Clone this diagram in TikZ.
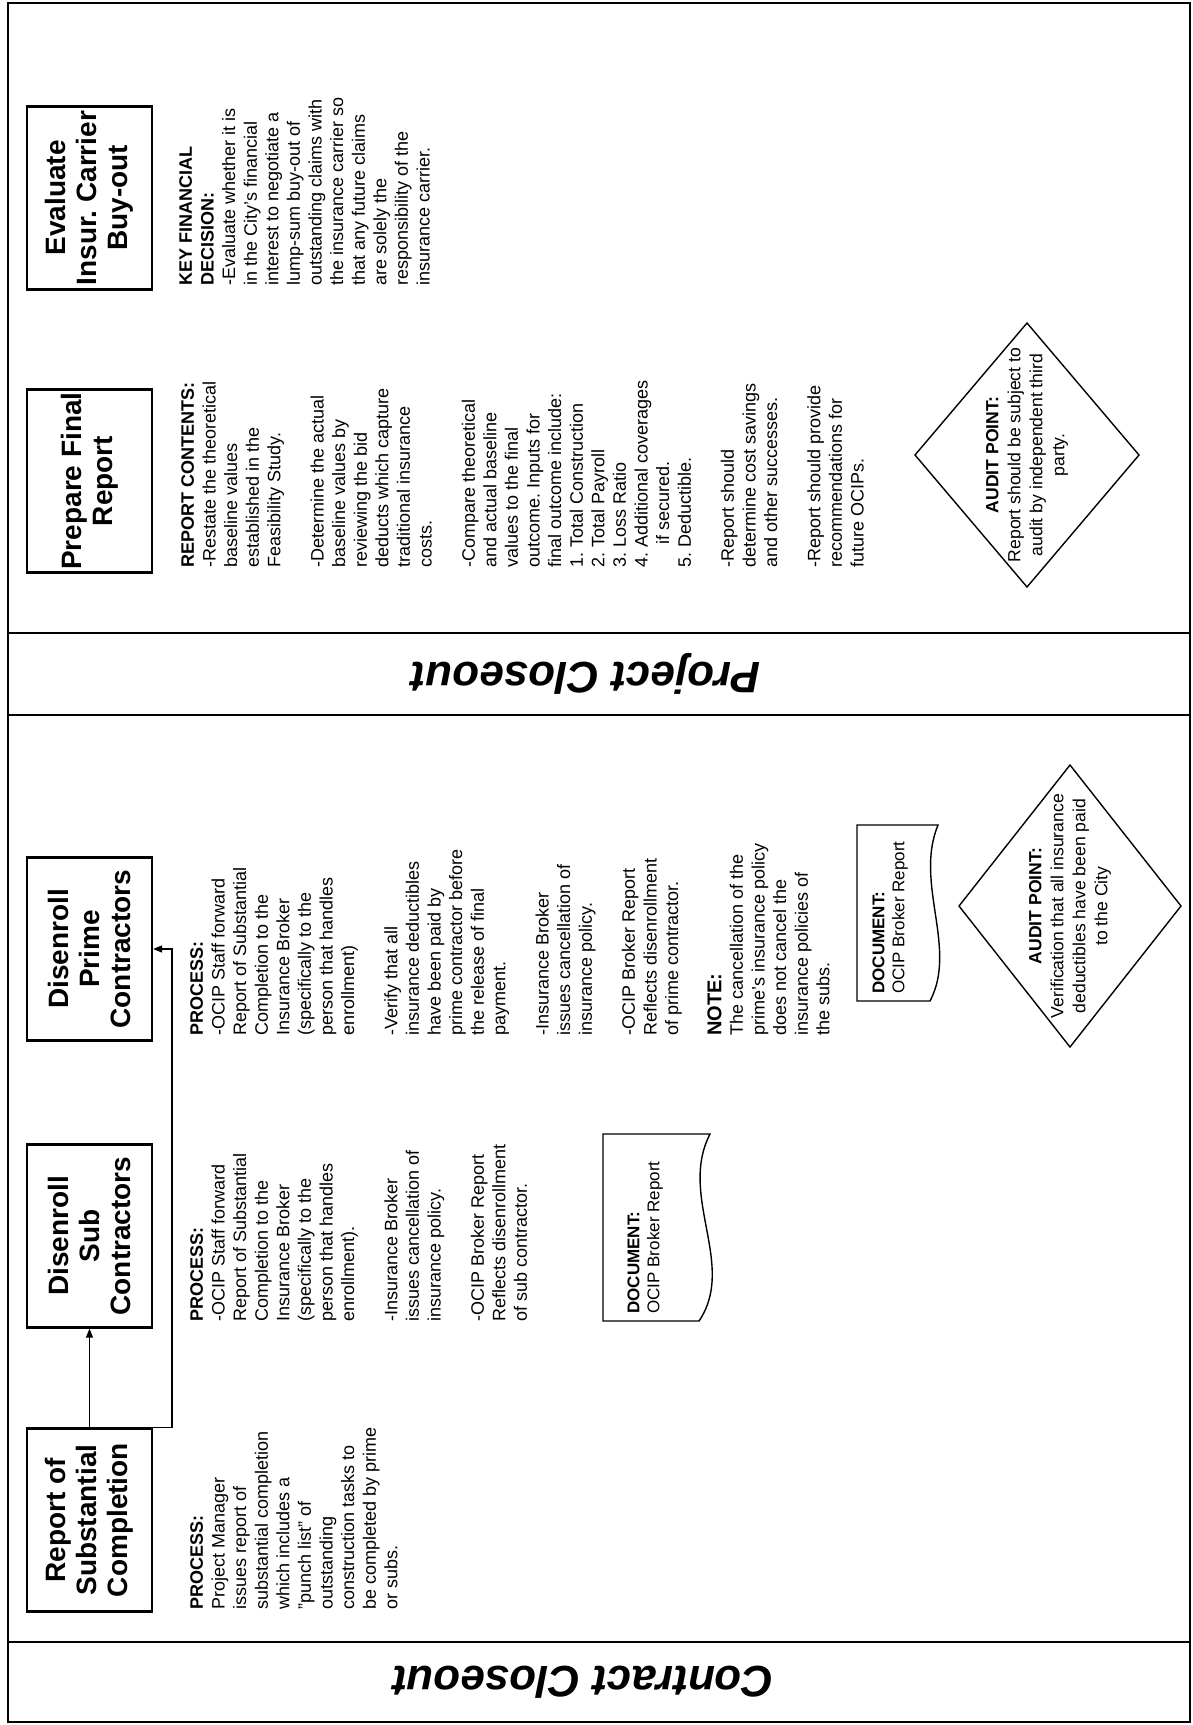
\documentclass[tikz,border=0pt]{standalone}
\usepackage{fontspec}
\setmainfont{Liberation Sans}
\usetikzlibrary{arrows.meta}
\frenchspacing
\begin{document}
\begin{tikzpicture}[x=0.5pt,y=-0.5pt,
  frame/.style={line width=1pt},
  titlebox/.style={draw, line width=1.1pt, rotate=90, align=center, minimum width=91.5pt, minimum height=62.5pt, inner sep=0pt, font=\fontsize{14}{15.6}\selectfont\bfseries},
  body/.style={rotate=90, anchor=north west, align=left, inner sep=0pt, font=\fontsize{9}{10.8}\selectfont\frenchspacing},
  docbody/.style={rotate=90, anchor=north west, align=left, inner sep=0pt, font=\fontsize{8.5}{10}\selectfont},
  audit/.style={rotate=90, align=center, inner sep=0pt, font=\fontsize{8.8}{11}\selectfont},
  lane/.style={rotate=180, inner sep=0pt, font=\fontsize{22}{26}\selectfont\bfseries\itshape},
  conn/.style={line width=0.7pt, -{Triangle[length=4.5pt,width=3.5pt]}},
  shapeline/.style={line width=0.7pt}
]
\path[use as bounding box] (0,0) rectangle (1193,1725);

% frame and lanes
\draw[frame] (8,3) rectangle (1190,1722);
\draw[frame] (8,633) -- (1190,633);
\draw[frame] (8,715) -- (1190,715);
\draw[frame] (8,1642) -- (1190,1642);
\node[lane] (lblproj) at (586,674) {Project Closeout};
\node[lane] (lblcont) at (583,1682) {Contract Closeout};

% title boxes
\node[titlebox] (eval) at (89.5,198) {Evaluate\\Insur. Carrier\\Buy-out};
\node[titlebox] (prep) at (89.5,481) {Prepare Final\\Report};
\node[titlebox] (prime) at (89.5,949) {Disenroll\\Prime\\Contractors};
\node[titlebox] (sub) at (89.5,1236) {Disenroll\\Sub\\Contractors};
\node[titlebox] (rep) at (89.5,1520) {Report of\\Substantial\\Completion};

% connectors
\coordinate (jog) at (172,1428);
\draw[conn] (rep.east) -- (sub.west);
\draw[conn] (rep.east) -- (rep.east -| jog) |- (prime.south);

% project closeout texts
\node[body] (keytxt) at (179,286) {\textbf{KEY FINANCIAL}\\\textbf{DECISION:}\\-Evaluate whether it is\\in the City's financial\\interest to negotiate a\\lump-sum buy-out of\\outstanding claims with\\the insurance carrier so\\that any future claims\\are solely the\\responsibility of the\\insurance carrier.};

\node[body] (repcont) at (181,568) {\textbf{REPORT CONTENTS:}\\-Restate the theoretical\\baseline values\\established in the\\Feasibility Study.\\[10.8pt]-Determine the actual\\baseline values by\\reviewing the bid\\deducts which capture\\traditional insurance\\costs.\\[10.8pt]-Compare theoretical\\and actual baseline\\values to the final\\outcome. Inputs for\\final outcome include:\\1. Total Construction\\2. Total Payroll\\3. Loss Ratio\\4. Additional coverages\\\hspace*{1.3em}if secured.\\5. Deductible.\\[10.8pt]-Report should\\determine cost savings\\and other successes.\\[10.8pt]-Report should provide\\recommendations for\\future OCIPs.};

\coordinate (d1) at (1027,455);
\draw[shapeline] (d1) ++(0,-132) -- ++(112,132) -- ++(-112,132) -- ++(-112,-132) -- cycle;
\node[audit] (aud1) at (d1) {\textbf{AUDIT POINT:}\\Report should be subject to\\audit by independent third\\party.};

% contract closeout texts
\node[body] (reptxt) at (190,1610) {\textbf{PROCESS:}\\Project Manager\\issues report of\\substantial completion\\which includes a\\"punch list" of\\outstanding\\construction tasks to\\be completed by prime\\or subs.};

\node[body] (subtxt) at (190,1322) {\textbf{PROCESS:}\\-OCIP Staff forward\\Report of Substantial\\Completion to the\\Insurance Broker\\(specifically to the\\person that handles\\enrollment).\\[10.8pt]-Insurance Broker\\issues cancellation of\\insurance policy.\\[10.8pt]-OCIP Broker Report\\Reflects disenrollment\\of sub contractor.};

\node[body] (primetxt) at (190,1036) {\textbf{PROCESS:}\\-OCIP Staff forward\\Report of Substantial\\Completion to the\\Insurance Broker\\(specifically to the\\person that handles\\enrollment)\\[10.8pt]-Verify that all\\insurance deductibles\\have been paid by\\prime contractor before\\the release of final\\payment.\\[10.8pt]-Insurance Broker\\issues cancellation of\\insurance policy.\\[10.8pt]-OCIP Broker Report\\Reflects disenrollment\\of prime contractor.\\[10.8pt]{\fontsize{10}{10.8}\selectfont\bfseries NOTE:}\\The cancellation of the\\prime's insurance policy\\does not cancel the\\insurance policies of\\the subs.};

% documents
\draw[shapeline] (603,1134) -- (710,1134) .. controls (678,1196) and (737,1265) .. (699,1321) -- (603,1321) -- cycle;
\node[docbody] (subdoc) at (627,1314) {\textbf{DOCUMENT:}\\OCIP Broker Report};

\draw[shapeline] (857,825) -- (938,825) .. controls (914,883) and (958,948) .. (930,1001) -- (857,1001) -- cycle;
\node[docbody] (primedoc) at (872,994) {\textbf{DOCUMENT:}\\OCIP Broker Report};

% audit diamond 2
\coordinate (d2) at (1070,906);
\draw[shapeline] (d2) ++(0,-141) -- ++(111,141) -- ++(-111,141) -- ++(-111,-141) -- cycle;
\node[audit] (aud2) at (d2) {\textbf{AUDIT POINT:}\\Verification that all insurance\\deductibles have been paid\\to the City};
\end{tikzpicture}
\end{document}
